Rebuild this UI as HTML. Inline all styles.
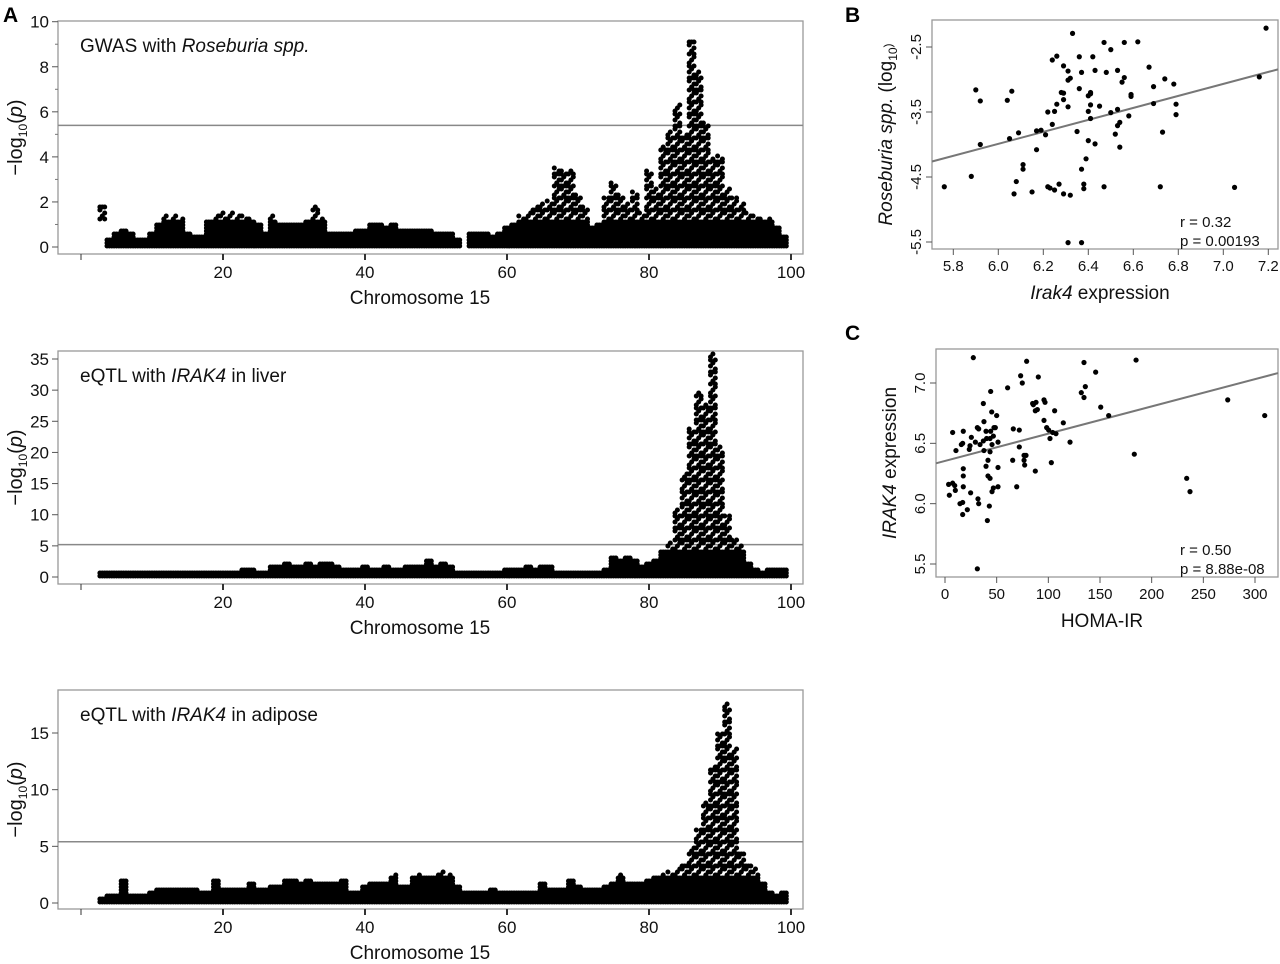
<!DOCTYPE html>
<html><head><meta charset="utf-8"><style>
html,body{margin:0;padding:0;background:#fff;}
svg{display:block;font-family:"Liberation Sans",Arial,sans-serif;}
</style></head><body>
<svg id="fig" width="1280" height="964" viewBox="0 0 1280 964" xmlns="http://www.w3.org/2000/svg"></svg>
<script>
// ---------- Data ----------
const chrPos = [];
for (let p = 3; p <= 99; p++) chrPos.push(p);
const gwasHi = [1.9,0.4,0.7,0.8,0.6,0.4,0.4,0.6,1.1,1.4, 1.4,1.3,0.6,0.5,0.5,1.2,1.5,1.6,1.6,1.5, 1.4,1.3,1.1,0.6,1.4,1.1,1.1,1.0,1.1,1.2, 1.8,1.3,0.7,0.6,0.7,0.7,0.8,0.8,1.0,1.0, 0.9,1.0,0.8,0.8,0.8,0.8,0.8,0.7,0.6,0.6, 0.4,0,0.7,0.6,0.6,0.5,0.6,0.9,1.0,1.4, 1.6,1.8,2.0,2.1,3.6,3.4,3.5,2.4,1.8,0.9, 1.0,2.2,2.9,2.4,2.0,2.5,1.6,3.4,2.6,4.5, 5.2,6.3,5.0,9.2,7.8,5.6,4.0,4.1,2.6,2.3, 2.0,1.6,1.4,1.3,1.3,0.9,0.5];
const gwasLo = [1.2];
const liverHi = [1.0,1.1,1.0,1.0,1.1,1.0,1.0,1.0,1.1,1.0, 1.0,1.0,1.1,1.0,1.0,1.1,1.0,1.0,1.1,1.0, 1.3,1.2,1.0,1.0,1.6,2.0,2.1,2.0,1.9,2.1, 2.0,2.2,2.5,1.8,1.5,1.5,1.5,1.6,1.5,1.4, 1.9,1.4,1.5,1.7,1.8,2.0,2.8,1.8,2.4,2.0, 0.8,0.9,0.9,0.9,1.0,1.0,1.1,1.4,1.2,1.5, 1.8,1.5,1.6,1.6,1.0,0.9,0.8,0.9,1.0,0.9, 0.8,1.2,3.5,2.6,3.5,3.0,2.0,2.5,3.0,4.0, 5.5,11,17,24,30,28,36,21,10,6.4, 5.3,2.5,1.2,1.0,1.2,1.2,1.3];
const adiposeHi = [0.6,0.7,0.7,2.0,0.8,0.8,0.7,0.9,1.2,1.4, 1.4,1.4,1.4,1.3,1.0,1.1,2.1,1.4,1.4,1.3, 1.3,1.8,1.2,1.3,1.6,1.6,2.0,2.0,1.8,2.1, 1.8,1.7,1.7,1.8,2.0,1.0,1.0,1.6,1.8,1.8, 1.8,2.5,1.6,1.6,2.4,2.5,2.4,2.7,2.8,2.6, 1.5,0.9,1.0,1.1,1.1,1.2,1.0,0.9,0.9,1.0, 0.9,1.0,1.8,1.2,1.2,1.3,2.0,1.5,1.3,1.2, 1.3,1.5,1.7,2.5,1.8,1.8,1.8,2.0,2.4,2.6, 2.8,3.0,3.5,5.0,6.5,9,12,15,17.7,13.7, 4.5,3.5,3.2,1.7,0.9,0.8,0.9];
const xTicksA = [20,40,60,80,100];
const threshold = [5.4, 5.2, 5.4];

const bX = [5.76,5.88,5.90,5.92,5.92,6.04,6.05,6.06,6.07,6.08,6.09,6.11,6.11,6.15,6.17,6.17,6.19,6.21,6.22,6.22,6.23,6.24,6.24,6.25,6.25,6.26,6.26,6.27,6.28,6.29,6.29,6.29,6.29,6.31,6.31,6.31,6.32,6.32,6.33,6.35,6.36,6.36,6.37,6.37,6.38,6.38,6.39,6.40,6.40,6.41,6.40,6.41,6.41,6.41,6.42,6.43,6.43,6.45,6.47,6.47,6.48,6.50,6.50,6.52,6.53,6.53,6.53,6.54,6.54,6.55,6.56,6.56,6.58,6.59,6.59,6.62,6.67,6.69,6.69,6.72,6.73,6.74,6.78,6.79,6.79,7.05,7.16,7.19,6.31,6.37];
const bY = [-4.65,-4.49,-3.16,-3.33,-4.00,-3.32,-3.91,-3.18,-4.76,-4.57,-3.82,-4.31,-4.38,-4.73,-3.79,-4.08,-3.78,-3.85,-3.50,-4.65,-4.67,-3.69,-2.70,-3.49,-4.70,-3.38,-2.64,-4.61,-3.20,-3.21,-4.76,-2.79,-3.31,-3.42,-2.87,-3.01,-2.98,-4.78,-2.29,-3.80,-2.65,-3.14,-4.38,-2.89,-4.61,-4.68,-4.22,-3.49,-3.25,-3.22,-3.94,-3.20,-3.39,-3.60,-2.65,-3.99,-2.86,-3.41,-2.43,-4.65,-2.89,-3.51,-2.54,-3.84,-3.71,-3.46,-2.86,-4.04,-3.66,-3.04,-2.43,-2.97,-3.56,-3.26,-3.23,-2.42,-2.81,-3.11,-3.37,-4.65,-3.81,-2.99,-3.07,-3.38,-3.54,-4.66,-2.96,-2.21,-5.51,-5.51];
const bFit = [0.922, -3.99]; // slope, value at x=6
const bXTicks = [5.8,6.0,6.2,6.4,6.6,6.8,7.0,7.2];
const bYTicks = [-2.5,-3.5,-4.5,-5.5];

const cX = [27.4,79.0,134.5,184.9,145.8,73.2,74.8,90.3,60.6,44.2,37.1,84.8,88.1,85.5,87.4,89.4,95.8,96.8,106.1,131.9,134.5,135.8,150.7,158.4,273.6,309.4,45.2,50.0,37.7,31.3,32.6,7.4,17.7,25.5,39.7,44.2,47.4,48.7,43.6,46.8,66.1,71.9,95.8,98.4,100.3,101.6,107.4,104.2,114.5,121.0,10.6,17.1,15.8,24.2,23.5,29.4,33.9,37.1,40.3,51.3,45.5,37.7,43.6,71.9,65.5,76.5,78.4,76.5,77.1,87.4,102.9,183.2,41.6,39.7,51.3,17.7,17.7,41.6,43.6,69.4,3.5,7.4,9.4,10.0,17.7,4.2,24.8,46.8,45.5,51.3,14.5,17.1,21.6,17.1,31.9,32.6,42.9,41.0,233.9,237.1,31.3];
const cY = [7.21,7.18,7.17,7.19,7.09,7.06,7.00,7.05,6.96,6.93,6.83,6.83,6.84,6.82,6.77,6.78,6.86,6.84,6.77,6.92,6.88,6.97,6.80,6.73,6.86,6.73,6.76,6.73,6.68,6.63,6.62,6.59,6.60,6.55,6.60,6.60,6.63,6.63,6.54,6.56,6.62,6.61,6.69,6.63,6.61,6.54,6.58,6.59,6.67,6.51,6.44,6.50,6.49,6.48,6.45,6.51,6.49,6.52,6.54,6.51,6.49,6.44,6.43,6.47,6.36,6.40,6.40,6.36,6.32,6.27,6.34,6.41,6.36,6.31,6.30,6.29,6.23,6.23,6.21,6.14,6.16,6.17,6.15,6.11,6.14,6.07,6.09,6.13,6.10,6.14,6.00,6.01,5.95,5.91,6.04,6.00,5.98,5.86,6.21,6.10,5.46];
const cFit = [0.00226, 6.354]; // slope, intercept
const cXTicks = [0,50,100,150,200,250,300];
const cYTicks = [7.0,6.5,6.0,5.5];

// ---------- Helpers ----------
const NS = "http://www.w3.org/2000/svg";
const svg = document.getElementById('fig');
function mk(tag, attrs, parent, text) {
  const e = document.createElementNS(NS, tag);
  for (const k in attrs) e.setAttribute(k, attrs[k]);
  if (text !== undefined) e.textContent = text;
  (parent || svg).appendChild(e);
  return e;
}
function linearScale(d0, d1, r0, r1) { return v => r0 + (v - d0) * (r1 - r0) / (d1 - d0); }

// ---------- Manhattan panels ----------
const X = linearScale(0, 100, 81, 791);
function manhattan(cfg) {
  const g = mk('g', {});
  
  
  const Y = linearScale(0, cfg.yMax, cfg.y0, cfg.yTop);
  const box = mk('rect', {x: 58, y: cfg.boxTop, width: 745, height: cfg.boxBot - cfg.boxTop, fill: 'none', stroke: '#999', 'stroke-width': 1.3}, g);
  
  
  cfg.yTicks.forEach(t => {
    const y = Y(t);
    const tk = mk('line', {x1: 52, x2: 58, y1: y, y2: y, stroke: '#555', 'stroke-width': 1}, g);
    
    
    const lb = mk('text', {x: 49, y: y + 6, 'text-anchor': 'end', 'font-size': 17, fill: '#111'}, g, String(t));
    
    
  });
  (cfg.minor || []).forEach(t => {
    const y = Y(t);
    const tk = mk('line', {x1: 55, x2: 58, y1: y, y2: y, stroke: '#777', 'stroke-width': 1}, g);
    
    
  });
  [0].concat(xTicksA).forEach(t => {
    const x = X(t);
    const tk = mk('line', {x1: x, x2: x, y1: cfg.boxBot, y2: cfg.boxBot + 6, stroke: '#333', 'stroke-width': t === 0 ? 1 : 2}, g);
    
    
    if (t !== 0) {
      const lb = mk('text', {x: x, y: cfg.boxBot + 24, 'text-anchor': 'middle', 'font-size': 17, fill: '#111'}, g, String(t));
      
      
    }
  });
  const xt = mk('text', {x: 420, y: cfg.boxBot + 50, 'text-anchor': 'middle', 'font-size': 19, fill: '#111'}, g, 'Chromosome 15');
  
  
  const yc = (cfg.boxTop + cfg.boxBot) / 2;
  const yt = mk('text', {x: 0, y: 0, 'text-anchor': 'middle', 'font-size': 20, fill: '#111', transform: `translate(22,${yc}) rotate(-90)`}, g);
  
  
  mk('tspan', {}, yt, '\u2212log');
  mk('tspan', {'font-size': 12, dy: 5}, yt, '10');
  mk('tspan', {dy: -5}, yt, '(');
  mk('tspan', {'font-style': 'italic'}, yt, 'p');
  mk('tspan', {}, yt, ')');
  const th = mk('line', {x1: 58, x2: 803, y1: Y(cfg.thr), y2: Y(cfg.thr), stroke: '#888', 'stroke-width': 1.5}, g);
  
  
  const tt = mk('text', {x: 80, y: cfg.boxTop + 31, 'font-size': 19, fill: '#111'}, g);
  
  
  cfg.title.forEach(([s, it]) => mk('tspan', it ? {'font-style': 'italic'} : {}, tt, s));
  const dg = mk('g', {fill: '#000'}, g);
  
  
  chrPos.forEach((p, i) => {
    const hi = cfg.hi[i];
    if (!hi || hi <= 0) return;
    const lo = (cfg.lo && cfg.lo[i]) || 0;
    const xc = X(p);
    const yLo = Y(lo) - 1, yHi = Y(hi);
    const cols = [-2.4, 0, 2.4];
    let row = 0;
    for (let y = yLo; y >= yHi - 0.1; y -= 3, row++) {
      const dense = (Y(0) - y) < 28;
      cols.forEach((o, ci) => {
        if (!dense && ci !== (row + i) % 3 && (row % 4 !== 0 || ci === 1)) return;
        const c = mk('circle', {cx: xc + o, cy: y, r: 2.5}, dg);
        
        
      });
    }
  });
}

manhattan({name: 'panel-a-gwas', boxTop: 21, boxBot: 254, y0: 247, yTop: 21.7, yMax: 10, yTicks: [0,2,4,6,8,10], minor: [1,3,5,7,9], hi: gwasHi, lo: gwasLo, thr: threshold[0], title: [['GWAS with '], ['Roseburia spp.', true]]});
manhattan({name: 'panel-a-liver', boxTop: 351, boxBot: 584, y0: 577, yTop: 359, yMax: 35, yTicks: [0,5,10,15,20,25,30,35], hi: liverHi, thr: threshold[1], title: [['eQTL with '], ['IRAK4', true], [' in liver']]});
manhattan({name: 'panel-a-adipose', boxTop: 690, boxBot: 909, y0: 903, yTop: 733, yMax: 15, yTicks: [0,5,10,15], hi: adiposeHi, thr: threshold[2], title: [['eQTL with '], ['IRAK4', true], [' in adipose']]});

// ---------- Scatter panels ----------
function scatter(cfg) {
  const g = mk('g', {});
  
  
  const fr = mk('rect', {x: cfg.left, y: cfg.top, width: cfg.right - cfg.left, height: cfg.bot - cfg.top, fill: 'none', stroke: '#999', 'stroke-width': 1.3}, g);
  
  
  cfg.xTicks.forEach(t => {
    const x = cfg.X(t);
    const tk = mk('line', {x1: x, x2: x, y1: cfg.bot, y2: cfg.bot + 6, stroke: '#555'}, g);
    
    
    const lb = mk('text', {x: x, y: cfg.bot + 22, 'text-anchor': 'middle', 'font-size': 15, fill: '#111'}, g, cfg.xFmt(t));
    
    
  });
  cfg.yTicks.forEach(t => {
    const y = cfg.Y(t);
    const tk = mk('line', {x1: cfg.left - 6, x2: cfg.left, y1: y, y2: y, stroke: '#555'}, g);
    
    
    const lb = mk('text', {x: 0, y: 0, 'text-anchor': 'middle', 'font-size': 15, fill: '#111', transform: `translate(${cfg.left - 11},${y}) rotate(-90)`}, g, t.toFixed(1));
    
    
  });
  const xt = mk('text', {x: (cfg.left + cfg.right) / 2 - 5, y: cfg.bot + 50, 'text-anchor': 'middle', 'font-size': 19, fill: '#111'}, g);
  
  
  cfg.xTitle.forEach(([s, it]) => mk('tspan', it ? {'font-style': 'italic'} : {}, xt, s));
  const yt = mk('text', {x: 0, y: 0, 'text-anchor': 'middle', 'font-size': 19, fill: '#111', transform: `translate(${cfg.left - 40},${(cfg.top + cfg.bot) / 2}) rotate(-90)`}, g);
  
  
  cfg.yTitle.forEach(([s, it, sub]) => mk('tspan', it ? {'font-style': 'italic'} : (sub ? {'font-size': 12, dy: sub} : {}), yt, s));
  const xa = cfg.X.inv(cfg.left), xb = cfg.X.inv(cfg.right);
  const rl = mk('line', {x1: cfg.left, x2: cfg.right, y1: cfg.Y(cfg.fit(xa)), y2: cfg.Y(cfg.fit(xb)), stroke: '#777', 'stroke-width': 2}, g);
  
  
  cfg.xs.forEach((v, i) => {
    const c = mk('circle', {cx: cfg.X(v), cy: cfg.Y(cfg.ys[i]), r: 2.6, fill: '#000'}, g);
    
    
  });
  const r = mk('text', {x: cfg.right - 98, y: cfg.bot - 22, 'font-size': 15, fill: '#111'}, g, cfg.rText);
  
  
  const p = mk('text', {x: cfg.right - 98, y: cfg.bot - 3, 'font-size': 15, fill: '#111'}, g, cfg.pText);
  
  
}
function scale(d0, d1, r0, r1) { const f = linearScale(d0, d1, r0, r1); f.inv = linearScale(r0, r1, d0, d1); return f; }

scatter({name: 'panel-b', left: 932, right: 1278, top: 20, bot: 249,
  X: scale(5.8, 7.2, 953.3, 1268.3), Y: scale(-2.5, -5.5, 47, 242),
  xs: bX, ys: bY, fit: x => bFit[1] + bFit[0] * (x - 6), xTicks: bXTicks, yTicks: bYTicks,
  xFmt: t => t.toFixed(1), xTitle: [['Irak4', true], [' expression']],
  yTitle: [['Roseburia spp.', true], [' (log'], ['10', false, 5], [')', false, -5]],
  rText: 'r = 0.32', pText: 'p = 0.00193'});
scatter({name: 'panel-c', left: 936, right: 1278, top: 349, bot: 577,
  X: scale(0, 300, 945, 1255), Y: scale(7.0, 5.5, 383, 564),
  xs: cX, ys: cY, fit: x => cFit[1] + cFit[0] * x, xTicks: cXTicks, yTicks: cYTicks,
  xFmt: t => String(t), xTitle: [['HOMA-IR']],
  yTitle: [['IRAK4', true], [' expression']],
  rText: 'r = 0.50', pText: 'p = 8.88e-08'});

[['A', 3, 22], ['B', 845, 22], ['C', 845, 340]].forEach(([s, x, y]) => {
  const t = mk('text', {x: x, y: y, 'font-size': 21, 'font-weight': 'bold', fill: '#000'}, svg, s);
  
  
});
</script>
</body></html>
